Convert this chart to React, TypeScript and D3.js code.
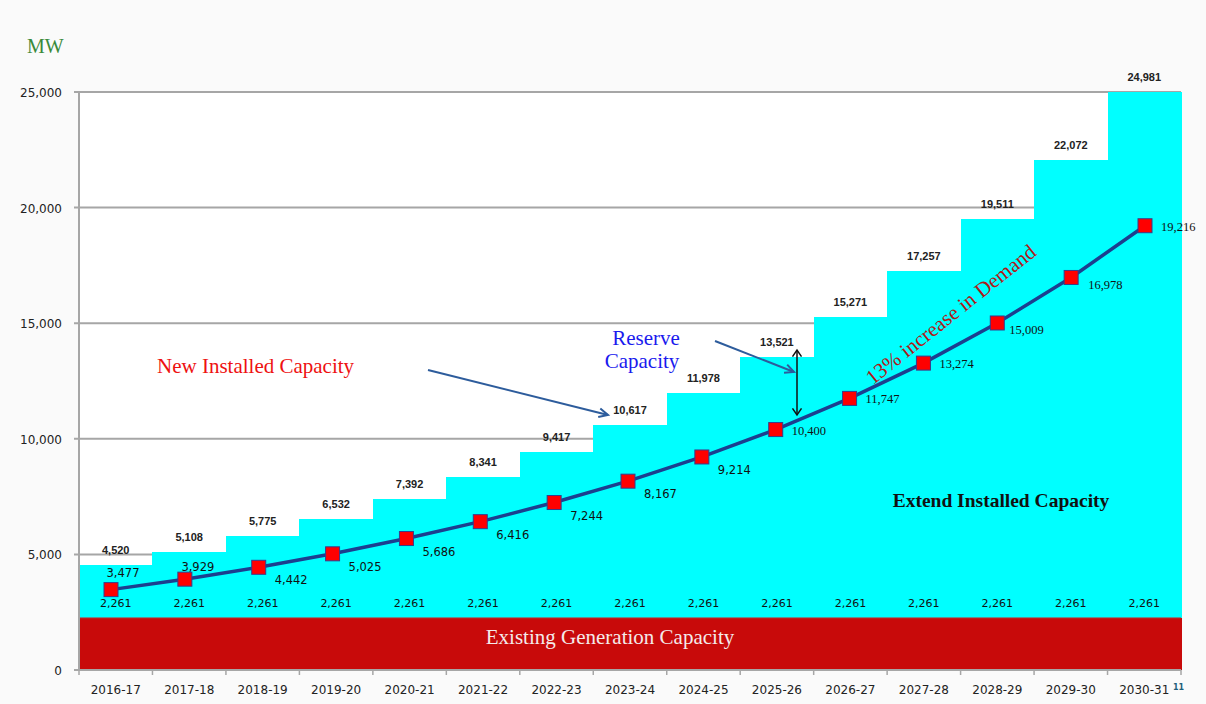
import React, { useEffect } from "react";
import * as d3 from "d3";

const years = ["2016-17","2017-18","2018-19","2019-20","2020-21","2021-22","2022-23","2023-24","2024-25","2025-26","2026-27","2027-28","2028-29","2029-30","2030-31"];
const existing = [2261,2261,2261,2261,2261,2261,2261,2261,2261,2261,2261,2261,2261,2261,2261];
const installed = [4520,5108,5775,6532,7392,8341,9417,10617,11978,13521,15271,17257,19511,22072,24981];
const demand = [3477,3929,4442,5025,5686,6416,7244,8167,9214,10400,11747,13274,15009,16978,19216];
const yTicks = [0,5000,10000,15000,20000,25000];

const W = 1206, H = 704;
const M = { left: 79, right: 1181, top: 92, bottom: 670 };

const fmt = d3.format(",");

function chevron(x1: number, y1: number, x2: number, y2: number, size = 10, spread = 0.45) {
  const a = Math.atan2(y2 - y1, x2 - x1);
  const p1 = [x2 - size * Math.cos(a - spread), y2 - size * Math.sin(a - spread)];
  const p2 = [x2 - size * Math.cos(a + spread), y2 - size * Math.sin(a + spread)];
  return `M${p1[0]},${p1[1]}L${x2},${y2}L${p2[0]},${p2[1]}`;
}

export default function App() {
  useEffect(() => { document.body.style.margin = "0"; }, []);
  const x = d3.scaleBand().domain(years).range([M.left, M.right]).padding(0);
  const xp = d3.scalePoint().domain(years).range([111, 1145]);
  const y = d3.scaleLinear().domain([0, 25000]).range([M.bottom, M.top]);
  const bw = x.bandwidth();
  const cx = (i: number) => (x(years[i]) as number) + bw / 2;
  const px = (i: number) => xp(years[i]) as number;
  const line = d3.line<number>().x((_, i) => px(i)).y(d => y(d));
  const sans = "'DejaVu Sans', Verdana, sans-serif";
  const serif = "'Liberation Serif', 'Times New Roman', serif";

  const demandLabelPos = (i: number) => {
    if (i === 0) return { dx: 12, dy: -13, anchor: "middle" };
    if (i === 1) return { dx: 13, dy: -8, anchor: "middle" };
    if (i <= 8) return { dx: 16, dy: 17, anchor: "start" };
    if (i === 13) return { dx: 17, dy: 12, anchor: "start" };
    if (i === 12) return { dx: 12, dy: 11, anchor: "start" };
    return { dx: 16, dy: 5, anchor: "start" };
  };

  const a1 = [428, 370, 608, 415];
  const a2 = [715, 341, 794, 372];
  const dbl = [797, 350, 797, 415];

  return (
    <svg width={W} height={H} style={{ display: "block", background: "#fafafa" }}>
      <rect x={M.left} y={M.top} width={M.right - M.left} height={M.bottom - M.top} fill="#ffffff" />
      {/* gridlines */}
      {yTicks.filter(t => t > 0).map(t => (
        <line key={t} x1={M.left - 5} x2={M.right} y1={y(t)} y2={y(t)} stroke="#a6a6a6" strokeWidth={2} />
      ))}
      {/* installed (cyan) bars */}
      {installed.map((v, i) => (
        <rect key={i} x={x(years[i]) as number} y={y(v)} width={bw + 1} height={y(0) - y(v)} fill="#00ffff" shapeRendering="crispEdges" />
      ))}
      {/* existing (red) bars */}
      {existing.map((v, i) => (
        <rect key={i} x={x(years[i]) as number} y={y(v)} width={bw + 1} height={y(0) - y(v)} fill="#c80a0a" shapeRendering="crispEdges" />
      ))}
      <line x1={M.left} x2={M.right} y1={y(existing[0])} y2={y(existing[0])} stroke="#8a6a6a" strokeWidth={1} />
      {/* axes */}
      <line x1={M.left} x2={M.left} y1={M.top} y2={M.bottom} stroke="#a6a6a6" strokeWidth={2} />
      <line x1={M.left - 5} x2={M.right} y1={M.bottom} y2={M.bottom} stroke="#a6a6a6" strokeWidth={2} />
      {years.map((yr, i) => (
        <line key={yr} x1={x(yr) as number} x2={x(yr) as number} y1={M.bottom} y2={M.bottom + 5} stroke="#a6a6a6" strokeWidth={1.5} />
      ))}
      <line x1={M.right} x2={M.right} y1={M.bottom} y2={M.bottom + 5} stroke="#a6a6a6" strokeWidth={1.5} />
      {yTicks.map(t => (
        <text key={t} x={M.left - 17} y={y(t) + 5} textAnchor="end" fontFamily={sans} fontSize={12} fill="#222">{fmt(t)}</text>
      ))}
      {years.map((yr, i) => (
        <text key={yr} x={cx(i)} y={694} textAnchor="middle" fontFamily={sans} fontSize={12} fill="#222">{yr}</text>
      ))}
      <text x={1173} y={690} fontFamily={sans} fontSize={8} fontWeight="bold" fill="#1f5f7a">11</text>
      {/* installed labels */}
      {installed.map((v, i) => (
        <text key={i} x={cx(i)} y={y(v) - 11} textAnchor="middle" fontFamily="'Liberation Sans', Arial, sans-serif" fontSize={11} fontWeight="bold" fill="#222">{fmt(v)}</text>
      ))}
      {/* existing labels */}
      {existing.map((v, i) => (
        <text key={i} x={cx(i)} y={607} textAnchor="middle" fontFamily={sans} fontSize={11} fill="#111">{fmt(v)}</text>
      ))}
      {/* demand line */}
      <path d={line(demand) as string} fill="none" stroke="#1c3f8f" strokeWidth={3.5} />
      {demand.map((v, i) => (
        <rect key={i} x={px(i) - 7} y={y(v) - 7} width={14} height={14} fill="#ff0000" stroke="#3a3a8a" strokeWidth={1} />
      ))}
      {demand.map((v, i) => {
        const p = demandLabelPos(i);
        return (
          <text key={i} x={px(i) + p.dx} y={y(v) + p.dy} textAnchor={p.anchor as any} fontFamily={i >= 9 ? serif : sans} fontSize={i >= 9 ? 12.5 : 11.5} fill="#111">{fmt(v)}</text>
        );
      })}
      {/* annotations */}
      <text x={27} y={53} fontFamily={serif} fontSize={20} fill="#3a8a3a">MW</text>
      <text x={157} y={373} fontFamily={serif} fontSize={21} fill="#ee1111">New Installed Capacity</text>
      <path d={`M${a1[0]},${a1[1]}L${a1[2]},${a1[3]}`} stroke="#2d5c9c" strokeWidth={2} fill="none" />
      <path d={chevron(a1[0], a1[1], a1[2], a1[3])} stroke="#2d5c9c" strokeWidth={2} fill="none" />
      <text x={646} y={345} textAnchor="middle" fontFamily={serif} fontSize={21} fill="#1a1aee">Reserve</text>
      <text x={642} y={368} textAnchor="middle" fontFamily={serif} fontSize={21} fill="#1a1aee">Capacity</text>
      <path d={`M${a2[0]},${a2[1]}L${a2[2]},${a2[3]}`} stroke="#2d5c9c" strokeWidth={2} fill="none" />
      <path d={chevron(a2[0], a2[1], a2[2], a2[3])} stroke="#2d5c9c" strokeWidth={2} fill="none" />
      <path d={`M${dbl[0]},${dbl[1]}L${dbl[2]},${dbl[3]}`} stroke="#111" strokeWidth={1.5} fill="none" />
      <path d={chevron(dbl[0], dbl[1], dbl[2], dbl[3], 8, 0.6)} stroke="#111" strokeWidth={1.5} fill="none" />
      <path d={chevron(dbl[2], dbl[3], dbl[0], dbl[1], 8, 0.6)} stroke="#111" strokeWidth={1.5} fill="none" />
      <text transform={`translate(955,320) rotate(-38.5)`} textAnchor="middle" fontFamily={serif} fontSize={21} fill="#b01818">13% increase in Demand</text>
      <text x={1001} y={507} textAnchor="middle" fontFamily={serif} fontSize={19.5} fontWeight="bold" fill="#111">Extend Installed Capacity</text>
      <text x={610} y={644} textAnchor="middle" fontFamily={serif} fontSize={21} fill="#f4eaea">Existing Generation Capacity</text>
    </svg>
  );
}
